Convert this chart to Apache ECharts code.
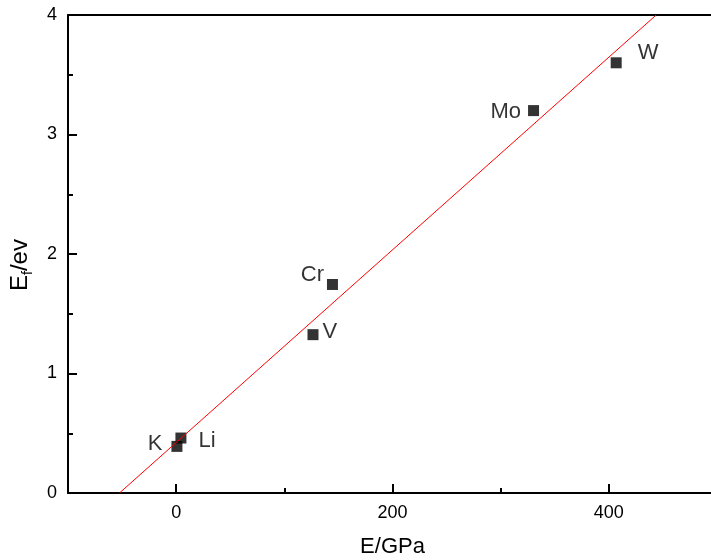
<!DOCTYPE html>
<html>
<head>
<meta charset="utf-8">
<script src="https://cdn.jsdelivr.net/npm/echarts@6/dist/echarts.min.js"></script>
<style>
html,body{margin:0;padding:0;background:#fff;}
#chart{width:711px;height:560px;}
</style>
</head>
<body>
<div id="chart"></div>
<script>
// ---- data ----
var elements = ['K', 'Li', 'V', 'Cr', 'Mo', 'W'];
var modulusGPa = [0.7, 4.4, 126.5, 144.5, 330.4, 406.8];
var formationEnergy = [0.39, 0.46, 1.325, 1.745, 3.20, 3.60];
var fitLineX = [-52.4, 443.8];
var fitLineY = [0, 4];
var xMajorTicks = [0, 200, 400];
var xMinorTicks = [100, 300];
var xMin = -100, xMax = 500;
var yMin = 0, yMax = 4;

// ---- label placement (presentation only) ----
var labelPlacement = {
  K:  {position: 'left',  distance: 9,  offset: [0, -2]},
  Li: {position: 'right', distance: 12, offset: [0, 3]},
  V:  {position: 'right', distance: 4,  offset: [0, -3]},
  Cr: {position: 'left',  distance: 3,  offset: [0, -10]},
  Mo: {position: 'left',  distance: 7,  offset: [0, 1]},
  W:  {position: 'right', distance: 16, offset: [0, -10]}
};

var FONT = 'Liberation Sans, Arial, sans-serif';

var scatterData = elements.map(function (name, i) {
  var p = labelPlacement[name];
  return {
    name: name,
    value: [modulusGPa[i], formationEnergy[i]],
    label: {show: true, formatter: name, position: p.position, distance: p.distance, offset: p.offset}
  };
});
var lineData = fitLineX.map(function (x, i) { return [x, fitLineY[i]]; });

var chart = echarts.init(document.getElementById('chart'), null, {renderer: 'canvas'});
var lineStyleAxis = {color: '#000', width: 2};
chart.setOption({
  animation: false,
  backgroundColor: '#fff',
  grid: {left: 68, top: 15, width: 649, height: 478, containLabel: false, outerBoundsMode: 'none'},
  xAxis: [
    {
      type: 'value', min: xMin, max: xMax, position: 'bottom',
      name: 'E/GPa', nameLocation: 'middle', nameGap: 43,
      nameTextStyle: {fontFamily: FONT, fontSize: 22, color: '#000'},
      axisLine: {show: true, onZero: false, lineStyle: lineStyleAxis},
      axisTick: {show: true, inside: true, length: 9, customValues: xMajorTicks, lineStyle: lineStyleAxis},
      axisLabel: {show: true, customValues: xMajorTicks, margin: 11, fontFamily: FONT, fontSize: 18, color: '#000'},
      splitLine: {show: false}
    },
    {
      type: 'value', min: xMin, max: xMax, position: 'bottom',
      axisLine: {show: false, onZero: false},
      axisTick: {show: true, inside: true, length: 5, customValues: xMinorTicks, lineStyle: lineStyleAxis},
      axisLabel: {show: false},
      splitLine: {show: false}
    },
    {
      type: 'value', min: xMin, max: xMax, position: 'top',
      axisLine: {show: true, onZero: false, lineStyle: lineStyleAxis},
      axisTick: {show: false}, axisLabel: {show: false}, splitLine: {show: false}
    }
  ],
  yAxis: [
    {
      type: 'value', min: yMin, max: yMax, interval: 1, position: 'left',
      name: 'E{sub|f}/ev', nameLocation: 'middle', nameGap: 33, nameRotate: 90,
      nameTextStyle: {fontFamily: FONT, fontSize: 24, color: '#000', padding: [0, 22, 0, 0],
        rich: {sub: {fontFamily: FONT, fontSize: 14, color: '#000', verticalAlign: 'bottom', padding: [16, 0, 0, 0]}}},
      axisLine: {show: true, onZero: false, lineStyle: lineStyleAxis},
      axisTick: {show: true, inside: true, length: 9, lineStyle: lineStyleAxis},
      minorTick: {show: true, splitNumber: 2, length: 5, lineStyle: {color: '#000', width: 2}},
      axisLabel: {show: true, margin: 11, fontFamily: FONT, fontSize: 18, color: '#000'},
      splitLine: {show: false}, minorSplitLine: {show: false}
    },
    {
      type: 'value', min: yMin, max: yMax, interval: 1, position: 'right',
      axisLine: {show: true, onZero: false, lineStyle: lineStyleAxis},
      axisTick: {show: false}, axisLabel: {show: false}, splitLine: {show: false}
    }
  ],
  series: [
    {
      type: 'line', xAxisIndex: 0, yAxisIndex: 0, data: lineData,
      showSymbol: false, symbol: 'none', clip: true,
      lineStyle: {color: '#ff0000', width: 1}, z: 3
    },
    {
      type: 'scatter', xAxisIndex: 0, yAxisIndex: 0, data: scatterData,
      symbol: 'rect', symbolSize: 11,
      itemStyle: {color: '#000'},
      label: {fontFamily: FONT, fontSize: 22, color: '#000'},
      z: 2
    }
  ]
});
</script>
</body>
</html>
